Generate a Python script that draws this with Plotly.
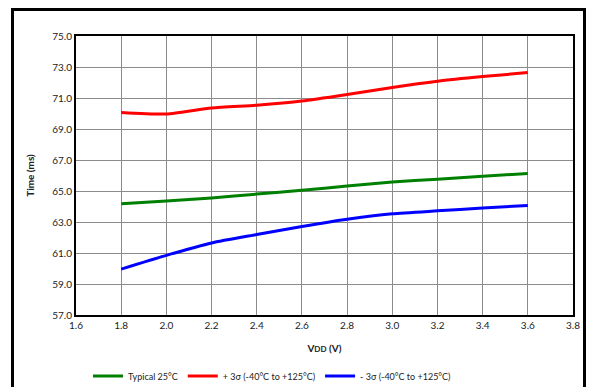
import plotly.graph_objects as go

vdd = [1.8, 2.0, 2.2, 2.4, 2.6, 2.8, 3.0, 3.2, 3.4, 3.6]
typical_25c = [64.18, 64.35, 64.55, 64.80, 65.05, 65.32, 65.58, 65.76, 65.95, 66.13]
plus_3sigma = [70.07, 69.97, 70.36, 70.54, 70.80, 71.22, 71.68, 72.08, 72.38, 72.64]
minus_3sigma = [59.96, 60.85, 61.65, 62.19, 62.71, 63.18, 63.53, 63.72, 63.90, 64.07]

series_names = ["Typical 25°C", "+ 3σ (-40°C to +125°C)", "- 3σ (-40°C to +125°C)"]
series_colors = ["#008000", "#FF0000", "#0000FF"]
series_values = [typical_25c, plus_3sigma, minus_3sigma]

FONT = "Lato, Liberation Sans, sans-serif"

fig = go.Figure()
for name, color, vals in zip(series_names, series_colors, series_values):
    fig.add_trace(go.Scatter(
        x=vdd, y=vals, name=name, mode="lines",
        line=dict(color=color, width=3, shape="spline", smoothing=0.6),
    ))

W, H = 589, 387
L, R, T, B = 76, 16, 36, 72
pw, ph = W - L - R, H - T - B

def px_x(p):
    return (p - L) / pw

def px_y(p):
    return (H - B - p) / ph

border = dict(color="black", width=3)
frame_lines = [
    dict(type="line", xref="paper", yref="paper", x0=px_x(11), x1=px_x(586), y0=px_y(9.5), y1=px_y(9.5), line=border),
    dict(type="line", xref="paper", yref="paper", x0=px_x(12.5), x1=px_x(12.5), y0=px_y(8), y1=px_y(390), line=border),
    dict(type="line", xref="paper", yref="paper", x0=px_x(584.5), x1=px_x(584.5), y0=px_y(8), y1=px_y(390), line=border),
]

fig.update_layout(
    width=W, height=H,
    margin=dict(l=L, r=R, t=T, b=B, autoexpand=False),
    paper_bgcolor="white", plot_bgcolor="white",
    font=dict(family=FONT, size=10, color="#222222"),
    showlegend=True,
    legend=dict(orientation="h", x=px_x(88), xanchor="left", y=px_y(376), yanchor="middle",
                font=dict(size=9, family=FONT), tracegroupgap=0),
    xaxis=dict(range=[1.6, 3.8], dtick=0.2, tick0=1.6, tickformat=".1f",
               showgrid=True, gridcolor="#8C8C8C", gridwidth=1,
               showline=True, linecolor="black", linewidth=2, mirror=True,
               zeroline=False, ticks="", ticklen=0, automargin=False,
               tickfont=dict(size=10, family=FONT),
               title=dict(text="<b>V<span style='font-size:8px'>DD</span> (V)</b>",
                          font=dict(size=10, family=FONT), standoff=15)),
    yaxis=dict(range=[57, 75], dtick=2, tick0=57, tickformat=".1f",
               showgrid=True, gridcolor="#8C8C8C", gridwidth=1,
               showline=True, linecolor="black", linewidth=2, mirror=True,
               zeroline=False, ticks="", ticklen=0, automargin=False,
               tickfont=dict(size=10, family=FONT),
               title=dict(text="<b>Time (ms)</b>", font=dict(size=10, family=FONT), standoff=16)),
    shapes=frame_lines,
)

fig.write_html("out.html", config={"displayModeBar": False},
               post_script="document.body.style.margin='0px';")
